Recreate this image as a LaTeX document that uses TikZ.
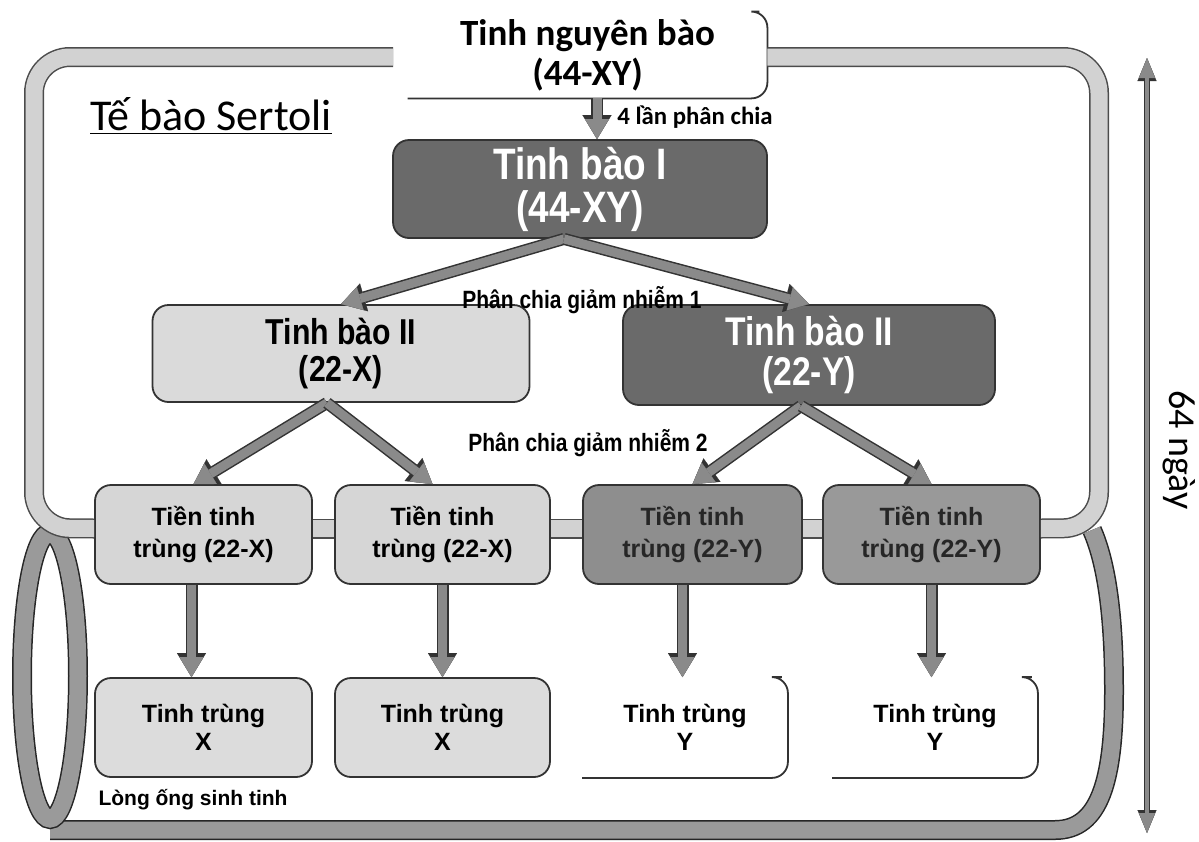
\documentclass[tikz,border=0pt]{standalone}
\usepackage{fontspec}
\setmainfont{Liberation Sans}
\newfontfamily\calibrifont{Carlito}
\newfontfamily\narrowfont[FakeStretch=0.84]{Liberation Sans}
\usetikzlibrary{arrows.meta,positioning}

\definecolor{tubegray}{HTML}{D2D2D2}
\definecolor{lumengray}{HTML}{9A9A9A}
\definecolor{arrowgray}{HTML}{8A8A8A}
\definecolor{darkcell}{HTML}{6A6A6A}
\definecolor{midcell}{HTML}{8E8E8E}
\definecolor{lightcell}{HTML}{D6D6D6}

\tikzset{
  cell/.style={draw=black!80, line width=0.9pt, rounded corners=8pt, align=center, inner sep=0pt},
  halfcell/.style={draw=black!80, line width=0.9pt, rounded corners=8pt},
  fatarrow/.style={draw=arrowgray, line width=4.5pt, -{Triangle[width=12pt,length=10pt,line width=0.1pt]},
    preaction={draw=black!80, line width=6pt, -{Triangle[width=14.5pt,length=12pt,line width=0.1pt]}}},
  dayarrow/.style={draw=arrowgray, line width=2pt,
    {Triangle[width=8pt,length=10pt,line width=0.1pt]}-{Triangle[width=8pt,length=10pt,line width=0.1pt]},
    preaction={draw=black!80, line width=3pt,
    {Triangle[width=9.5pt,length=11.5pt,line width=0.1pt]}-{Triangle[width=9.5pt,length=11.5pt,line width=0.1pt]}}},
  tube/.style={draw=tubegray, line width=8.5pt, preaction={draw=black!70, line width=10pt}},
  lumen/.style={draw=lumengray, line width=8.5pt, preaction={draw=black!85, line width=10pt}},
  lbl/.style={inner sep=0pt, font=\narrowfont\bfseries\fontsize{12.5}{14}\selectfont}
}

\begin{document}
\begin{tikzpicture}[x=0.5pt, y=-0.5pt]
  \useasboundingbox (0,0) rectangle (1199,841);

  % tubule wall (lumen side)
  \draw[lumen] (50,830) -- (1055,830) .. controls (1100,830) and (1114,780) .. (1114,690)
    .. controls (1114,600) and (1103,555) .. (1092,530);
  \draw[lumen] (50,676) ellipse [x radius=14pt, y radius=71.5pt];

  % cells
  \node[align=center, inner sep=0pt, minimum width=179.5pt, minimum height=43pt,
    font=\calibrifont\bfseries\fontsize{18.5}{20}\selectfont] (tnb) at (587.5,55) {Tinh nguyên bào\\(44-XY)};
  \draw[halfcell] (tnb.south west) -- (tnb.south east) -- (tnb.north east) -- ++(-8,0);

  \node[cell, fill=darkcell, text=white, minimum width=187pt, minimum height=49pt,
    font=\narrowfont\bfseries\fontsize{22}{21.5}\selectfont] (tb1) at (580,189) {Tinh bào I\\(44-XY)};

  \node[cell, fill=lightcell!90, minimum width=188.5pt, minimum height=48.5pt,
    font=\narrowfont\bfseries\fontsize{18}{18.5}\selectfont] (tb2x) at (341,353.5) {Tinh bào II\\(22-X)};
  \node[cell, fill=darkcell, text=white, minimum width=186pt, minimum height=50pt,
    font=\narrowfont\bfseries\fontsize{20}{20}\selectfont] (tb2y) at (809,355) {Tinh bào II\\(22-Y)};

  \begin{scope}[every node/.style={cell, minimum height=49.5pt, font=\bfseries\fontsize{12.5}{16}\selectfont}]
    \node[fill=lightcell, minimum width=108.5pt] (tt1) at (203.5,534.5) {Tiền tinh\\trùng (22-X)};
    \node[fill=lightcell, minimum width=107.5pt] (tt2) at (442.5,534.5) {Tiền tinh\\trùng (22-X)};
    \node[fill=midcell, text=black!85, minimum width=109.5pt] (tt3) at (692.5,534.5) {Tiền tinh\\trùng (22-Y)};
    \node[fill=midcell!90, text=black!85, minimum width=108.5pt] (tt4) at (931.5,534.5) {Tiền tinh\\trùng (22-Y)};
  \end{scope}

  \begin{scope}[every node/.style={cell, minimum height=49.5pt, font=\bfseries\fontsize{12.5}{14}\selectfont}]
    \node[fill=lightcell!85, minimum width=108.5pt] (ts1) at (203.5,727.5) {Tinh trùng\\X};
    \node[fill=lightcell!85, minimum width=107.5pt] (ts2) at (442.5,727.5) {Tinh trùng\\X};
    \node[draw=none, minimum width=102pt] (ts3) at (685,727.5) {Tinh trùng\\Y};
    \node[draw=none, minimum width=102pt] (ts4) at (935,727.5) {Tinh trùng\\Y};
  \end{scope}
  \draw[halfcell] (ts3.south west) -- (ts3.south east) -- (ts3.north east) -- ++(-6,0);
  \draw[halfcell] (ts4.south west) -- (ts4.south east) -- (ts4.north east) -- ++(-6,0);

  % Sertoli cell
  \draw[tube, rounded corners=18pt] (393,57) -- (34,57) -- (34,528) -- ([yshift=3pt]tt1.west);
  \draw[tube, rounded corners=18pt] (tnb.east |- 0,57) -- (1099,57) -- (1099,528) -- ([yshift=3pt]tt4.east);
  \draw[tube] ([yshift=3pt]tt1.east) -- ([yshift=3pt]tt2.west);
  \draw[tube] ([yshift=3pt]tt2.east) -- ([yshift=3pt]tt3.west);
  \draw[tube] ([yshift=3pt]tt3.east) -- ([yshift=3pt]tt4.west);

  % divisions
  \draw[fatarrow] ([xshift=8.5pt]tb1.north |- tnb.south) -- ([xshift=8.5pt]tb1.north);
  \draw[fatarrow] ([xshift=-8pt]tb1.south) -- (tb2x.north);
  \draw[fatarrow] ([xshift=-8pt]tb1.south) -- (tb2y.north);
  \draw[fatarrow] ([xshift=-7pt]tb2x.south) -- ([xshift=-5pt]tt1.north);
  \draw[fatarrow] ([xshift=-7pt]tb2x.south) -- ([xshift=-5pt]tt2.north);
  \draw[fatarrow] ([xshift=-4pt]tb2y.south) -- (tt3.north);
  \draw[fatarrow] ([xshift=-4pt]tb2y.south) -- (tt4.north);
  \draw[fatarrow] ([xshift=-6pt]tt1.south) -- ([xshift=-6pt]ts1.north);
  \draw[fatarrow] (tt2.south) -- (ts2.north);
  \draw[fatarrow] ([xshift=-5pt]tt3.south) -- ([xshift=-5pt]tt3.south |- ts3.north);
  \draw[fatarrow] (tt4.south) -- (tt4.south |- ts4.north);

  % labels
  \node[lbl, anchor=west, font=\calibrifont\bfseries\fontsize{12.4}{14}\selectfont] (lan4) at (617,117) {4 lần phân chia};
  \node[lbl] (gn1) at (582,300) {Phân chia giảm nhiễm 1};
  \node[lbl] (gn2) at (588,443) {Phân chia giảm nhiễm 2};
  \node[lbl, font=\bfseries\fontsize{10.5}{13}\selectfont] (long) at (193,800) {Lòng ống sinh tinh};
  \node[inner sep=0pt, font=\calibrifont\fontsize{22}{24}\selectfont] (sertoli) at (211,116) {\underline{Tế bào Sertoli}};

  % duration
  \coordinate (dtop) at (1147,58);
  \coordinate (dbot) at (1147,833);
  \draw[dayarrow] (dtop) -- (dbot);
  \node[rotate=-90, inner sep=0pt, font=\calibrifont\fontsize{19}{21}\selectfont] (days) at (1179,450) {64 ngày};
\end{tikzpicture}
\end{document}
